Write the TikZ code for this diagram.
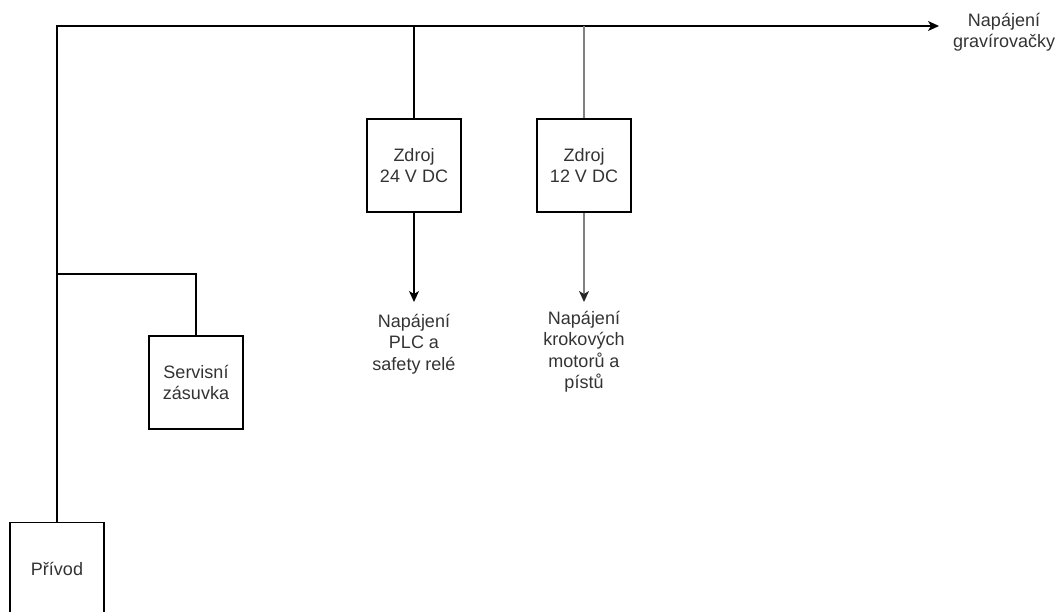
\documentclass[tikz,border=0pt]{standalone}
\usepackage{fontspec}
\setmainfont{Liberation Sans}
\usetikzlibrary{arrows.meta}
\definecolor{txt}{HTML}{333333}
\definecolor{grayline}{HTML}{808080}
\begin{document}
\begin{tikzpicture}[x=1pt,y=-1pt,
  box/.style={draw=black,line width=1.3pt,minimum width=94pt,minimum height=93pt,inner sep=0pt,align=center,text=txt,font=\fontsize{18}{21.5}\selectfont},
  lbl/.style={align=center,text=txt,inner xsep=0pt,inner ysep=0pt,font=\fontsize{18}{21.5}\selectfont},
  wire/.style={line width=1.3pt,draw=black},
  graywire/.style={line width=1.6pt,draw=grayline},
  arr/.style={-{Stealth[length=11pt,width=10pt,inset=3pt]}},
  darr/.style={-{Stealth[length=11pt,width=10pt,inset=3pt,color=black!85]}}
]
\useasboundingbox (0,0) rectangle (1056,611);
\node[box] (privod) at (57,569) {Přívod};
\node[box] (servis) at (196,382.5) {Servisní\\zásuvka};
\node[box] (z24) at (414,165.5) {Zdroj\\24 V DC};
\node[box] (z12) at (584,165.5) {Zdroj\\12 V DC};
\node[lbl,anchor=north] (l24) at (414,302) {\rule{0pt}{25pt}Napájení\\PLC a\\safety relé};
\node[lbl,anchor=north] (l12) at (584,302) {\rule{0pt}{22pt}Napájení\\krokových\\motorů a\\pístů};
\node[lbl] (grav) at (1004,32) {Napájení\\gravírovačky};
\coordinate (corner) at (57,26);
\coordinate (gend) at (939,26);
\coordinate (j24) at (414,26);
\coordinate (j12) at (584,26);
\coordinate (jsv) at (57,274);
\draw[wire,arr] (privod.north) -- (corner) -- (gend);
\draw[wire] (j24) -- (z24.north);
\draw[graywire] (j12) -- (z12.north);
\draw[wire] (jsv) -| (servis.north);
\draw[wire,arr] (z24.south) -- (l24.north);
\draw[graywire,darr] (z12.south) -- (l12.north);
\end{tikzpicture}
\end{document}
